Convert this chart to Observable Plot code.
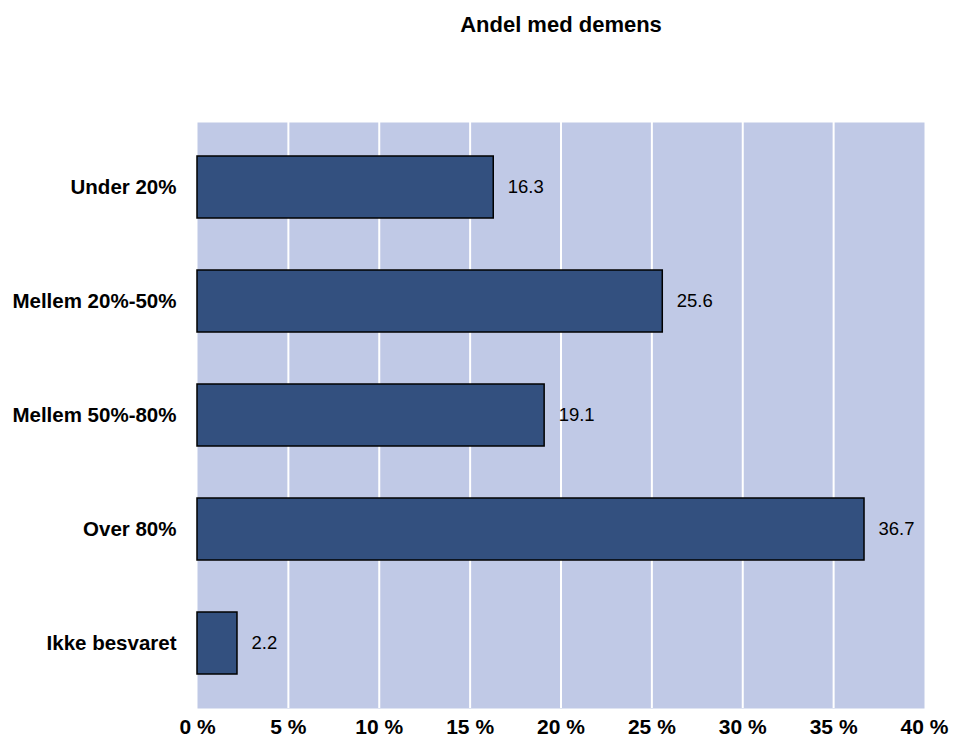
<!DOCTYPE html>
<html>
<head>
<meta charset="utf-8">
<script src="https://cdn.jsdelivr.net/npm/d3@7"></script>
<script src="https://cdn.jsdelivr.net/npm/@observablehq/plot@0.6"></script>
<style>
  html, body { margin: 0; padding: 0; background: #fff; }
  svg { display: block; }
</style>
</head>
<body>
<div id="chart"></div>
<script>
const title = "Andel med demens";
const categories = ["Under 20%", "Mellem 20%-50%", "Mellem 50%-80%", "Over 80%", "Ikke besvaret"];
const values = [16.3, 25.6, 19.1, 36.7, 2.2];
const xTicks = [0, 5, 10, 15, 20, 25, 30, 35, 40];

const data = categories.map((c, i) => ({category: c, value: values[i]}));
const font = "'Liberation Sans', Arial, Helvetica, sans-serif";

const chart = Plot.plot({
  width: 953,
  height: 740,
  marginLeft: 197,
  marginRight: 29,
  marginTop: 122,
  marginBottom: 32,
  style: {fontFamily: font, background: "#fff", overflow: "visible"},
  x: {domain: [0, 40], ticks: xTicks, label: null},
  y: {domain: categories, paddingInner: 0.46, paddingOuter: 0.28, label: null},
  marks: [
    Plot.frame({fill: "#c0c9e6", stroke: null}),
    Plot.ruleX(xTicks.slice(1, -1), {stroke: "#ffffff", strokeWidth: 2}),
    Plot.barX(data, {x: "value", y: "category", fill: "#33507f", stroke: "#000", strokeWidth: 1.5}),
    Plot.text(data, {x: "value", y: "category", text: d => d.value.toFixed(1), textAnchor: "start", dx: 14, fontSize: 18.5, fill: "#000", letterSpacing: "-0.3px"}),
    Plot.axisX({ticks: xTicks, tickSize: 0, tickPadding: 11, tickFormat: d => d + " %", fontSize: 21, fontWeight: "bold", fill: "#000", label: null, letterSpacing: "-0.9px", wordSpacing: "2px"}),
    Plot.axisY({tickSize: 0, tickPadding: 21, fontSize: 20.5, fontWeight: "bold", fill: "#000", label: null, letterSpacing: "-0.4px"}),
    Plot.text([title], {frameAnchor: "top", dy: -106, fontSize: 22, fontWeight: "bold", fill: "#000", wordSpacing: "12px", letterSpacing: "-0.2px"})
  ]
});
document.getElementById("chart").appendChild(chart);
</script>
</body>
</html>
